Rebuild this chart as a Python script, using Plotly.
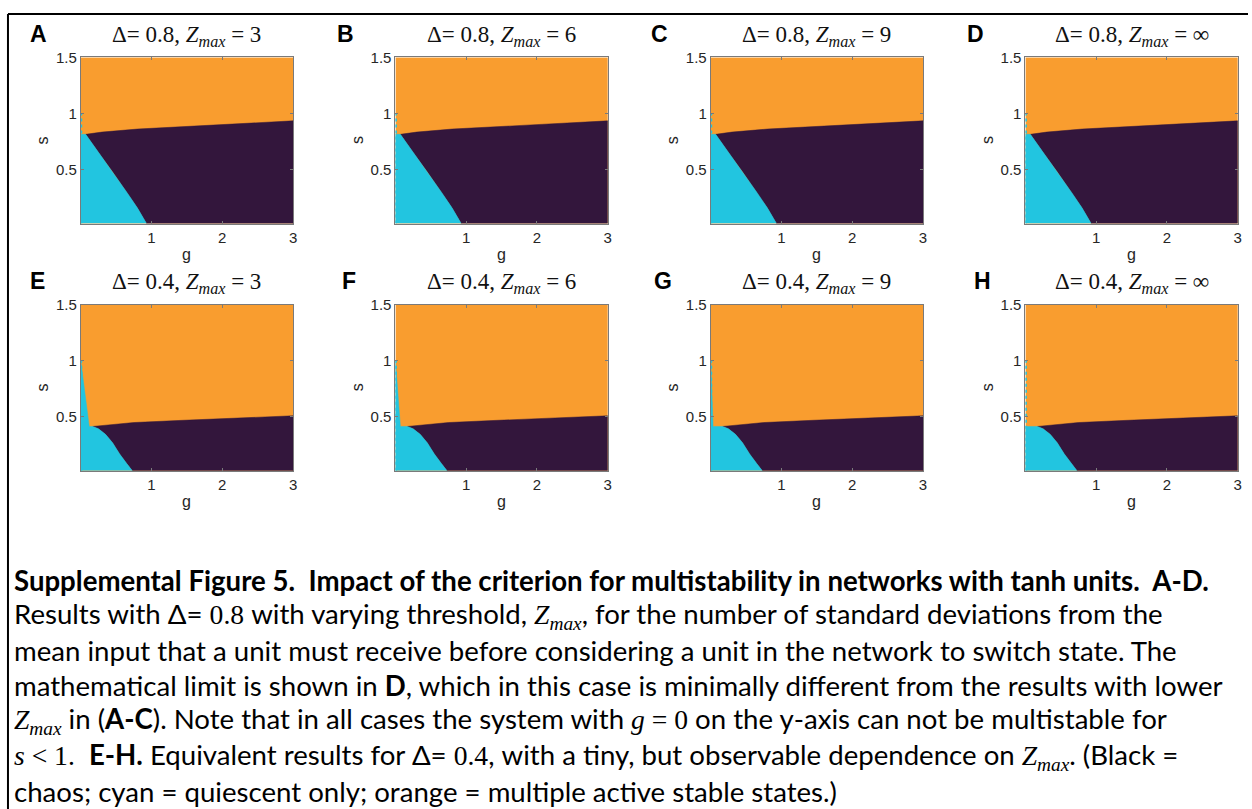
import plotly.graph_objects as go

# ---------------------------------------------------------------- data
DELTA_ROWS = [0.8, 0.4]
ZMAX_LABELS = ["3", "6", "9", "∞"]
PANEL_LETTERS = ["A", "B", "C", "D", "E", "F", "G", "H"]

G_RANGE = [0.0, 3.0]
S_RANGE = [0.02, 1.5]
X_TICKS = [1, 2, 3]
X_TICK_TEXT = ["1", "2", "3"]
Y_TICKS = [0.5, 1.0, 1.5]
Y_TICK_TEXT = ["0.5", "1", "1.5"]

# s below which the g = 0 column is quiescent
S_G0_LIMIT = 1.0

# Delta = 0.8 : boundary between multistable (above) and chaos (below)
CHAOS_TOP_G_08 = [0.07, 0.30, 0.80, 1.50, 2.20, 3.00]
CHAOS_TOP_S_08 = [0.815, 0.835, 0.862, 0.887, 0.910, 0.935]
# Delta = 0.8 : boundary between quiescent (left) and chaos (right)
QUIESCENT_EDGE_G_08 = [0.07, 0.25, 0.45, 0.65, 0.80, 0.93]
QUIESCENT_EDGE_S_08 = [0.815, 0.655, 0.485, 0.300, 0.160, 0.02]

# Delta = 0.4
CHAOS_TOP_G_04 = [0.17, 0.50, 0.75, 1.45, 2.15, 3.00]
CHAOS_TOP_S_04 = [0.415, 0.435, 0.450, 0.470, 0.488, 0.510]
QUIESCENT_EDGE_G_04 = [0.17, 0.25, 0.35, 0.45, 0.55, 0.65, 0.73]
QUIESCENT_EDGE_S_04 = [0.415, 0.395, 0.345, 0.270, 0.170, 0.085, 0.02]
# g where the quiescent wedge along g = 0 reaches the chaos boundary,
# one value per Zmax (3, 6, 9, inf)
WEDGE_TIP_G_04 = [0.12, 0.07, 0.033, 0.0]
WEDGE_TIP_G_08 = [0.0, 0.0, 0.0, 0.0]

ORANGE = "#F99D2F"
CHAOS = "#33163C"
CYAN = "#22C5E0"

# ---------------------------------------------------------------- layout geometry (pixels)
W, H = 1252, 809
COL_LEFT = [81, 396.7, 713, 1028.7]
PLOT_W = 213
ROW_TOP = [49, 299]
PLOT_H = 168
LETTER_X = [[39, 347, 662, 979], [38, 350, 665, 986]]


def px(x):
    return x / W


def py(y):
    return 1 - y / H


fig = go.Figure()

boundaries = {
    0.8: (CHAOS_TOP_G_08, CHAOS_TOP_S_08, QUIESCENT_EDGE_G_08, QUIESCENT_EDGE_S_08, WEDGE_TIP_G_08),
    0.4: (CHAOS_TOP_G_04, CHAOS_TOP_S_04, QUIESCENT_EDGE_G_04, QUIESCENT_EDGE_S_04, WEDGE_TIP_G_04),
}

annotations = []
shapes = []
axis_font = dict(family="Liberation Sans, Arial", size=15, color="#262626")

for r, delta in enumerate(DELTA_ROWS):
    top_g, top_s, edge_g, edge_s, tips = boundaries[delta]
    for c, zlab in enumerate(ZMAX_LABELS):
        k = r * 4 + c + 1
        xa = "x" if k == 1 else f"x{k}"
        ya = "y" if k == 1 else f"y{k}"

        # multistable background
        fig.add_trace(go.Scatter(
            x=[G_RANGE[0], G_RANGE[1], G_RANGE[1], G_RANGE[0]],
            y=[S_RANGE[0], S_RANGE[0], S_RANGE[1], S_RANGE[1]],
            fill="toself", fillcolor=ORANGE, mode="lines",
            line=dict(color=ORANGE, width=0.5), xaxis=xa, yaxis=ya,
            showlegend=False, hoverinfo="skip"))

        # chaotic region
        cx = list(top_g) + [G_RANGE[1]] + list(reversed(edge_g))
        cy = list(top_s) + [S_RANGE[0]] + list(reversed(edge_s))
        fig.add_trace(go.Scatter(
            x=cx, y=cy, fill="toself", fillcolor=CHAOS, mode="lines",
            line=dict(color=CHAOS, width=0.5), xaxis=xa, yaxis=ya,
            showlegend=False, hoverinfo="skip"))

        # quiescent region (with wedge along g = 0 when present)
        tip = tips[c]
        if tip > 0:
            qx = [0, 0, tip] + list(edge_g)
            qy = [S_RANGE[0], S_G0_LIMIT, edge_s[0]] + list(edge_s)
        else:
            qx = [0, 0] + list(edge_g)
            qy = [S_RANGE[0], edge_s[0]] + list(edge_s)
        fig.add_trace(go.Scatter(
            x=qx, y=qy, fill="toself", fillcolor=CYAN, mode="lines",
            line=dict(color=CYAN, width=0.5), xaxis=xa, yaxis=ya,
            showlegend=False, hoverinfo="skip"))

        # quiescent column at g = 0
        fig.add_trace(go.Scatter(
            x=[0, 0], y=[S_RANGE[0], S_G0_LIMIT], mode="lines",
            line=dict(color=CYAN, width=3, dash="dot"), xaxis=xa, yaxis=ya,
            showlegend=False, hoverinfo="skip"))

        x0 = COL_LEFT[c]
        y0 = ROW_TOP[r]
        xdom = [px(x0), px(x0 + PLOT_W)]
        ydom = [py(y0 + PLOT_H), py(y0)]
        common = dict(showline=True, linecolor="#7a7a7a", linewidth=1, mirror="ticks",
                      ticks="inside", ticklen=3, tickcolor="#7a7a7a", tickwidth=1,
                      showgrid=False, zeroline=False, tickfont=axis_font)
        fig.layout[("xaxis" if k == 1 else f"xaxis{k}")] = dict(
            domain=xdom, range=G_RANGE, tickvals=X_TICKS, ticktext=X_TICK_TEXT,
            anchor=ya, **common)
        fig.layout[("yaxis" if k == 1 else f"yaxis{k}")] = dict(
            domain=ydom, range=S_RANGE, tickvals=Y_TICKS, ticktext=Y_TICK_TEXT,
            anchor=xa, **common)

        # panel title
        annotations.append(dict(
            x=px(x0 + PLOT_W / 2), y=py(y0 - 22), xref="paper", yref="paper",
            text=f"Δ= {delta}, <i>Z</i><sub><i>max</i></sub> = {zlab}",
            showarrow=False, xanchor="center", yanchor="middle",
            font=dict(family="Liberation Serif, serif", size=23, color="#111")))
        # panel letter
        annotations.append(dict(
            x=px(LETTER_X[r][c]), y=py(y0 - 24), xref="paper", yref="paper",
            text=f"<b>{PANEL_LETTERS[k - 1]}</b>", showarrow=False,
            xanchor="center", yanchor="middle",
            font=dict(family="Liberation Sans, Arial", size=23, color="#000")))
        # axis labels
        annotations.append(dict(
            x=px(x0 + PLOT_W / 2), y=py(y0 + PLOT_H + 31), xref="paper", yref="paper",
            text="g", showarrow=False, xanchor="center", yanchor="middle",
            font=dict(family="Liberation Sans, Arial", size=16, color="#262626")))
        annotations.append(dict(
            x=px(x0 - 38), y=py(y0 + 84), xref="paper", yref="paper",
            text="s", showarrow=False, xanchor="center", yanchor="middle", textangle=-90,
            font=dict(family="Liberation Sans, Arial", size=16, color="#262626")))

# ---------------------------------------------------------------- caption
M = "font-family:'Liberation Serif', serif"
NB = "\u00a0"
zmax = f"<span style=\"{M}\"><i>Z</i><sub><i>max</i></sub></span>"
caption_lines = [
    f"<b>Supplemental Figure 5.{NB} Impact of the criterion for multistability in networks with tanh units.{NB} A-D.</b>",
    f"Results with Δ= <span style=\"{M}\">0.8</span> with varying threshold, {zmax}, for the number of standard deviations from the",
    "mean input that a unit must receive before considering a unit in the network to switch state. The",
    "mathematical limit is shown in <b>D</b>, which in this case is minimally different from the results with lower",
    f"{zmax} in (<b>A-C</b>). Note that in all cases the system with <span style=\"{M}\"><i>g</i> = 0</span> on the y-axis can not be multistable for",
    f"<span style=\"{M}\"><i>s</i> &lt; 1.</span>{NB} <b>E-H.</b> Equivalent results for Δ= <span style=\"{M}\">0.4</span>, with a tiny, but observable dependence on {zmax}. (Black =",
    "chaos; cyan = quiescent only; orange = multiple active stable states.)",
]
CAPTION_Y = [578, 613.5, 649, 684.5, 720, 755.5, 791]
for text, yy in zip(caption_lines, CAPTION_Y):
    annotations.append(dict(
        x=px(12), y=py(yy), xref="paper", yref="paper", text=text,
        showarrow=False, xanchor="left", yanchor="middle", align="left",
        font=dict(family="Lato, sans-serif", size=27.6, color="#000")))

# frame around the figure
shapes.append(dict(type="line", xref="paper", yref="paper",
                   x0=px(8), x1=1, y0=py(5), y1=py(5), line=dict(color="#000", width=2)))
shapes.append(dict(type="line", xref="paper", yref="paper",
                   x0=px(8), x1=px(8), y0=py(5), y1=0, line=dict(color="#000", width=2)))

fig.update_layout(
    width=W, height=H, margin=dict(l=0, r=0, t=0, b=0),
    paper_bgcolor="white", plot_bgcolor="white",
    annotations=annotations, shapes=shapes, showlegend=False)

fig.write_html("out.html")
